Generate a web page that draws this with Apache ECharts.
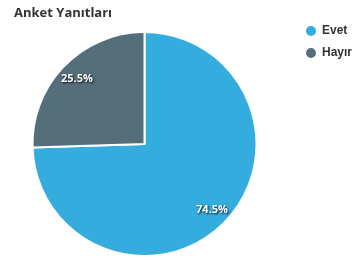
<!DOCTYPE html>
<html>
<head>
<meta charset="utf-8">
<script src="https://cdn.jsdelivr.net/npm/echarts@6/dist/echarts.min.js"></script>
<style>
  html, body { margin: 0; padding: 0; background: #fff; }
  #chart { width: 356px; height: 260px; }
</style>
</head>
<body>
<div id="chart"></div>
<script>
// anket verisi
var categories = ['Evet', 'Hayır'];
var values = [74.5, 25.5];
var colors = ['#34acdd', '#546e7a'];

var chart = echarts.init(document.getElementById('chart'));
var data = [];
for (var i = 0; i < categories.length; i++) {
    data.push({ name: categories[i], value: values[i], itemStyle: { color: colors[i] } });
}

var option = {
    animation: false,
    title: {
        text: 'Anket Yanıtları',
        left: 9,
        top: 2,
        textStyle: { fontFamily: 'Open Sans', fontSize: 13, fontWeight: 'bold', color: '#333' }
    },
    legend: {
        orient: 'vertical',
        left: 304,
        top: 24,
        padding: 0,
        itemWidth: 12,
        itemHeight: 12,
        itemGap: 8,
        icon: 'circle',
        data: categories,
        textStyle: { fontFamily: 'Liberation Sans', fontSize: 12, fontWeight: 'bold', color: '#333', padding: [0, 0, 0, 0] }
    },
    series: [
        {
            name: 'Anket Yanıtları',
            type: 'pie',
            center: [144.5, 144],
            radius: [0, 112],
            startAngle: 90,
            clockwise: true,
            itemStyle: { borderColor: '#fff', borderWidth: 2 },
            label: { show: false },
            labelLine: { show: false },
            emphasis: { disabled: true },
            data: data
        },
        {
            // sadece etiketler
            type: 'pie',
            center: [144.5, 144],
            radius: [70, 112],
            startAngle: 90,
            clockwise: true,
            silent: true,
            itemStyle: { color: 'rgba(0,0,0,0)' },
            label: {
                show: true,
                position: 'inside',
                formatter: '{c}%',
                fontFamily: 'Open Sans',
                fontSize: 11,
                fontWeight: 'bold',
                color: '#fff',
                textShadowColor: 'rgba(0,0,0,0.9)',
                textShadowBlur: 2,
                textShadowOffsetX: 1,
                textShadowOffsetY: 1
            },
            labelLine: { show: false },
            data: categories.map(function (c, i) { return { name: c, value: values[i] }; })
        }
    ]
};
chart.setOption(option);
</script>
</body>
</html>
